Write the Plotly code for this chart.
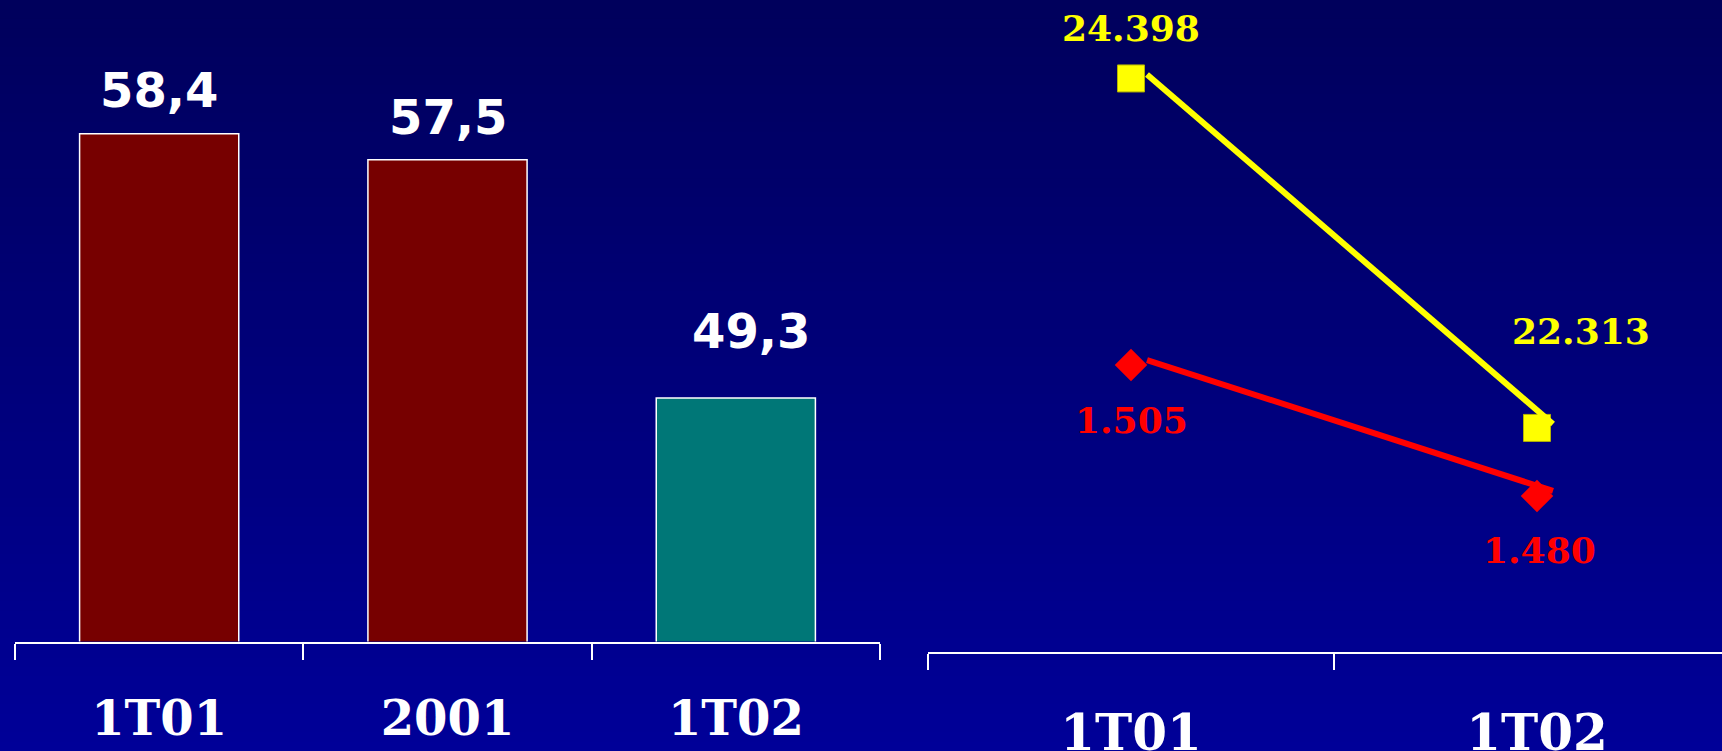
import plotly.graph_objects as go

# ---- data ----
bar_categories = ["1T01", "2001", "1T02"]
bar_values = [58.4, 57.5, 49.3]
bar_colors = ["#770000", "#770000", "#007777"]

line_categories = ["1T01", "1T02"]
yellow_values = [24398, 22313]
red_values = [1505, 1480]

W, H = 1722, 751

def fmt_comma(v):
    return f"{v:.1f}".replace(".", ",")

def fmt_thousands(v):
    return f"{v:,}".replace(",", ".")

fig = go.Figure()

# background gradient (decoration)
n_strips = 80
top_rgb = (0, 0, 0x5c)
bot_rgb = (0, 0, 0x98)
shapes = []
for i in range(n_strips):
    t = i / (n_strips - 1)
    c = tuple(round(top_rgb[k] + (bot_rgb[k] - top_rgb[k]) * t) for k in range(3))
    y1 = 1 - i / n_strips
    y0 = 1 - (i + 1) / n_strips - 0.003
    shapes.append(dict(type="rect", xref="paper", yref="paper", x0=0, x1=1,
                       y0=max(y0, 0), y1=y1, line=dict(width=0),
                       fillcolor=f"rgb({c[0]},{c[1]},{c[2]})", layer="below"))

# ---- left bar chart ----
fig.add_trace(go.Bar(
    x=bar_categories, y=bar_values, xaxis="x", yaxis="y",
    marker=dict(color=bar_colors, line=dict(color="white", width=1.5)),
    width=0.552, hoverinfo="skip", showlegend=False,
))

annotations = []
bar_label_offsets = [(0, 44), (0, 43), (15, 67)]
for i, (v, (dx, dy)) in enumerate(zip(bar_values, bar_label_offsets)):
    annotations.append(dict(
        x=i, y=v, xref="x", yref="y", text=fmt_comma(v), showarrow=False,
        xshift=dx, yshift=dy, yanchor="middle",
        font=dict(family="DejaVu Sans", size=48, color="white", weight="bold"),
    ))

# ---- right line chart: markers ----
fig.add_trace(go.Scatter(
    x=line_categories, y=yellow_values, xaxis="x2", yaxis="y2", mode="markers",
    marker=dict(symbol="square", size=27, color="#ffff00",
                line=dict(color="#b4b400", width=1)),
    hoverinfo="skip", showlegend=False,
))
fig.add_trace(go.Scatter(
    x=line_categories, y=red_values, xaxis="x2", yaxis="y3", mode="markers",
    marker=dict(symbol="diamond", size=25, color="#ff0000", line=dict(width=0)),
    hoverinfo="skip", showlegend=False,
))
# lines (drawn slightly offset from the markers, as in the original)
fig.add_trace(go.Scatter(
    x=line_categories, y=yellow_values, xaxis="x3", yaxis="y4", mode="lines",
    line=dict(color="#ffff00", width=6), hoverinfo="skip", showlegend=False,
))
fig.add_trace(go.Scatter(
    x=line_categories, y=red_values, xaxis="x3", yaxis="y5", mode="lines",
    line=dict(color="#ff0000", width=6), hoverinfo="skip", showlegend=False,
))

yellow_offsets = [(0, 50), (44, 97)]
red_offsets = [(0, -55), (2, -54)]
for i, (v, (dx, dy)) in enumerate(zip(yellow_values, yellow_offsets)):
    annotations.append(dict(
        x=i, y=v, xref="x2", yref="y2", text=fmt_thousands(v), showarrow=False,
        xshift=dx, yshift=dy, yanchor="middle",
        font=dict(family="DejaVu Serif", size=36, color="#ffff00", weight="bold"),
    ))
for i, (v, (dx, dy)) in enumerate(zip(red_values, red_offsets)):
    annotations.append(dict(
        x=i, y=v, xref="x2", yref="y3", text=fmt_thousands(v), showarrow=False,
        xshift=dx, yshift=dy, yanchor="middle",
        font=dict(family="DejaVu Serif", size=36, color="#ff0000", weight="bold"),
    ))

# ---- geometry ----
left_x0, left_x1 = 15 / W, 880 / W
left_y0 = (H - 641.5) / H
right_x0, right_x1 = 928 / W, 1.0
right_y0 = (H - 651.5) / H

px_per_cat_r = 406.0
xr2 = [-0.5, -0.5 + (W - 928) / px_per_cat_r]
shift_x = 16 / px_per_cat_r
xr3 = [xr2[0] - shift_x, xr2[1] - shift_x]

yellow_range = [20979, 24866]
red_range = [1450.3, 1574.7]
y_per_px = (yellow_range[1] - yellow_range[0]) / 651.5
r_per_px = (red_range[1] - red_range[0]) / 651.5
yellow_line_range = [yellow_range[0] - 4 * y_per_px, yellow_range[1] - 4 * y_per_px]
red_line_range = [red_range[0] - 5 * r_per_px, red_range[1] - 5 * r_per_px]

axis_common = dict(
    type="category", showline=True, linecolor="white", linewidth=2,
    ticks="outside", ticklen=16, tickwidth=2, tickcolor="white",
    tickson="boundaries", showgrid=False, zeroline=False, fixedrange=True,
)

fig.update_layout(
    width=W, height=H,
    margin=dict(l=0, r=0, t=0, b=0, autoexpand=False),
    paper_bgcolor="#000080", plot_bgcolor="rgba(0,0,0,0)",
    shapes=shapes, annotations=annotations, bargap=0.448,
    xaxis=dict(**axis_common, domain=[left_x0, left_x1], anchor="y",
               range=[-0.5, 2.5], ticklabelstandoff=34,
               tickfont=dict(family="DejaVu Serif", size=48, color="white", weight="bold")),
    yaxis=dict(domain=[left_y0, 1], range=[40.92, 63.0], visible=False, fixedrange=True),
    xaxis2=dict(**axis_common, domain=[right_x0, right_x1], anchor="y2",
                range=xr2, ticklabelstandoff=36,
                tickfont=dict(family="DejaVu Serif", size=50, color="white", weight="bold")),
    yaxis2=dict(domain=[right_y0, 1], anchor="x2", range=yellow_range, visible=False, fixedrange=True),
    yaxis3=dict(overlaying="y2", anchor="x2", range=red_range, visible=False, fixedrange=True),
    xaxis3=dict(overlaying="x2", anchor="y2", type="category", range=xr3, visible=False,
                categoryarray=line_categories, categoryorder="array", fixedrange=True),
    yaxis4=dict(overlaying="y2", anchor="x2", range=yellow_line_range, visible=False, fixedrange=True),
    yaxis5=dict(overlaying="y2", anchor="x2", range=red_line_range, visible=False, fixedrange=True),
)

fig.write_html("out.html", config={"displayModeBar": False},
               post_script="document.body.style.margin='0px';document.body.style.overflow='hidden';")
